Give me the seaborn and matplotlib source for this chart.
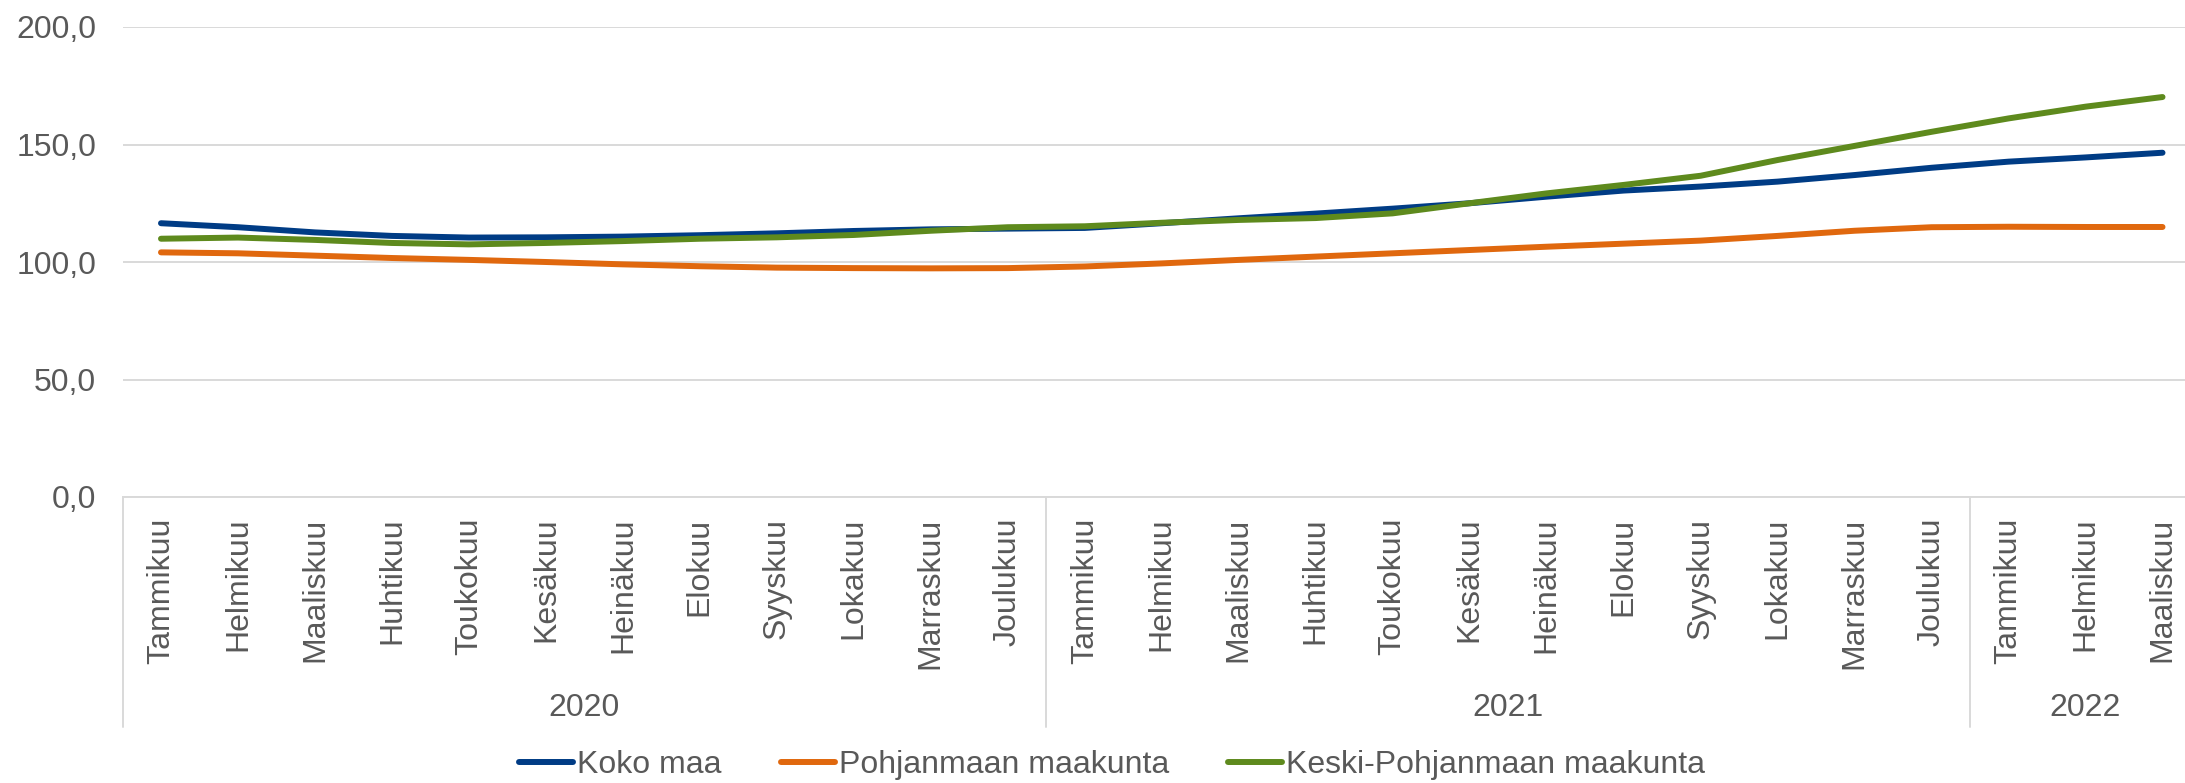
import pandas as pd
import matplotlib.pyplot as plt
import matplotlib.transforms as mtransforms
from matplotlib.lines import Line2D
from matplotlib.ticker import FuncFormatter
import seaborn as sns

# Chart data
months = ['Tammikuu', 'Helmikuu', 'Maaliskuu', 'Huhtikuu', 'Toukokuu', 'Kesäkuu',
          'Heinäkuu', 'Elokuu', 'Syyskuu', 'Lokakuu', 'Marraskuu', 'Joulukuu']
years = ['2020', '2021', '2022']
year_lengths = [12, 12, 3]
month_labels = months + months + months[:3]

koko_maa = [116.5, 114.8, 112.6, 111.1, 110.4, 110.5, 110.8, 111.4, 112.2, 113.2, 113.9, 114.2,
            114.5, 116.5, 118.6, 120.6, 122.7, 125.0, 127.8, 130.4, 132.1, 134.2, 137.0, 140.1,
            142.7, 144.5, 146.5]
pohjanmaa = [104.1, 103.7, 102.7, 101.7, 100.9, 100.0, 99.0, 98.2, 97.6, 97.4, 97.3, 97.4,
             98.1, 99.4, 100.9, 102.3, 103.7, 105.1, 106.5, 107.8, 109.1, 111.1, 113.3, 114.8,
             115.0, 114.9, 114.9]
keski_pohjanmaa = [109.9, 110.4, 109.4, 108.1, 107.5, 108.1, 108.9, 109.9, 110.5, 111.5, 113.3, 114.8,
                   115.2, 116.7, 117.9, 118.7, 120.7, 125.0, 129.2, 132.8, 136.7, 143.4, 149.4, 155.4,
                   161.1, 166.1, 170.2]
series_names = ['Koko maa', 'Pohjanmaan maakunta', 'Keski-Pohjanmaan maakunta']
colors = ['#003C85', '#E0680E', '#5E8A1D']

# long-form table for seaborn
n = len(month_labels)
df = pd.DataFrame({
    'pos': list(range(n)) * 3,
    'value': koko_maa + pohjanmaa + keski_pohjanmaa,
    'series': [s for s in series_names for _ in range(n)],
})

sns.set_style('white')
plt.rcParams['font.family'] = ['Liberation Sans', 'DejaVu Sans']
text_color = '#595959'
grid_color = '#D9D9D9'
W, H = 2185, 783

fig = plt.figure(figsize=(W / 100, H / 100), dpi=100)
ax = fig.add_axes([122.5 / W, (H - 497) / H, (2201 - 122.5) / W, 470 / H])

sns.lineplot(data=df, x='pos', y='value', hue='series', hue_order=series_names,
             palette=colors, linewidth=4.3, ax=ax, sort=False)
for line in ax.get_lines():
    line.set_solid_capstyle('round')
    line.set_solid_joinstyle('round')

ax.set_xlim(-0.5, n - 0.5)
ax.set_ylim(0, 200)
ax.set_yticks([0, 50, 100, 150, 200])
ax.yaxis.set_major_formatter(FuncFormatter(lambda v, p: f'{v:.1f}'.replace('.', ',')))
ax.grid(axis='y', color=grid_color, linewidth=1.4)
ax.set_axisbelow(True)
for side in ['left', 'right', 'top']:
    ax.spines[side].set_visible(False)
ax.spines['bottom'].set_color(grid_color)
ax.spines['bottom'].set_linewidth(1.4)

ax.set_xticks(range(n))
ax.set_xticklabels(month_labels, rotation=90, va='top', ha='center')
ax.tick_params(axis='x', length=0, pad=15, labelsize=23, labelcolor=text_color)
ax.tick_params(axis='y', length=0, pad=19, labelsize=23, labelcolor=text_color)
ax.set_xlabel('')
ax.set_ylabel('')

# year groups under the month labels (x in data units, y in figure units)
trans = mtransforms.blended_transform_factory(ax.transData, fig.transFigure)
start = 0
bounds = [-0.5]
for yr, length in zip(years, year_lengths):
    mid = start + (length - 1) / 2
    fig.text(mid, 1 - 708 / H, yr, transform=trans, ha='center', va='center',
             fontsize=23, color=text_color)
    start += length
    bounds.append(start - 0.5)
for b in bounds:
    fig.add_artist(Line2D([b, b], [1 - 497 / H, 1 - 727 / H], transform=trans,
                          color=grid_color, linewidth=1.4))

handles, labels = ax.get_legend_handles_labels()
ax.get_legend().remove()
fig.legend(handles, labels, loc='center', bbox_to_anchor=(1112 / W, 1 - 765 / H),
           ncol=3, frameon=False, fontsize=23, labelcolor=text_color,
           handlelength=1.7, handletextpad=0.12, columnspacing=1.85)

fig.savefig('out.png', dpi=100)
